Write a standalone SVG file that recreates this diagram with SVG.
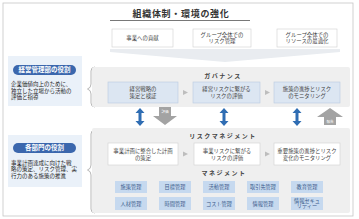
<svg xmlns="http://www.w3.org/2000/svg" width="359" height="219" viewBox="0 0 359 219">
<defs>
<style>
text{font-family:"Noto Sans CJK JP","Noto Sans",sans-serif;fill:#333}
.t{font-size:5.4px;text-anchor:middle;fill:#444}
.l{font-size:5.5px;fill:#222}
.h{font-size:6px;text-anchor:middle;letter-spacing:1.5px;font-weight:bold;fill:#444}
.pill{fill:#3b67ad}
.pt{font-size:6.5px;text-anchor:middle;fill:#fff;font-weight:bold}
.top{fill:#fff;stroke:#d0d0d0;stroke-width:0.6}
.gov{fill:#dce6f2;stroke:#b9c9df;stroke-width:0.6}
.rsk{fill:#fff;stroke:#d0d0d0;stroke-width:0.6}
.sm{fill:#c6d9ef}
.st{font-size:5.2px;text-anchor:middle;fill:#3a5a8a}
.tri{fill:#bdbdbd}
.ba{fill:#2f6db3}
.ga{fill:#a3a3a3}
.gt{font-size:3.6px;text-anchor:middle;fill:#fff}
.br{fill:none;stroke:#9a9a9a;stroke-width:0.7}
</style>
</defs>
<rect x="3" y="3" width="350" height="213" fill="#fff" stroke="#c6c6c6" stroke-width="0.8"/>
<g id="title">
<text x="181" y="17" style="font-size:9px;font-weight:bold;text-anchor:middle;letter-spacing:0.7px;fill:#333">組織体制・環境の強化</text>
<line x1="110" y1="20.5" x2="250" y2="20.5" stroke="#555" stroke-width="0.8"/>
</g>
<g id="top1"><rect class="top" x="112" y="29" width="61" height="18"/><text class="t" x="142.5" y="40">事業への貢献</text></g>
<g id="top2"><rect class="top" x="193" y="29" width="58" height="18"/><text class="t" x="222" y="36.5">グループ全体での</text><text class="t" x="222" y="43">リスク管理</text></g>
<g id="top3"><rect class="top" x="277" y="29" width="60" height="18"/><text class="t" x="307" y="36.5">グループ全体での</text><text class="t" x="307" y="43">リソースの最適化</text></g>
<polygon points="110,49 340,49 340,52 225,62 110,52" fill="#e9ecf0"/>

<g id="role1">
<rect x="8" y="56" width="74" height="50" fill="#eaf1f9"/>
<rect class="pill" x="13" y="65" width="63" height="10" rx="5"/>
<text class="pt" x="44.5" y="72.3">経営管理部の役割</text>
<text class="l" x="11" y="86">企業価値向上のために、</text>
<text class="l" x="11" y="92.5">独立した立場から活動の</text>
<text class="l" x="11" y="99">評価と指導</text>
</g>
<g id="role2">
<rect x="8" y="135" width="74" height="52" fill="#eaf1f9"/>
<rect class="pill" x="13" y="143" width="63" height="10" rx="5"/>
<text class="pt" x="44.5" y="150.3">各部門の役割</text>
<text class="l" x="11" y="164.5">事業計画達成に向けた戦</text>
<text class="l" x="11" y="171">略の策定、リスク管理、実</text>
<text class="l" x="11" y="177.5">行力のある施策の推進</text>
</g>
<path class="br" d="M95,67 Q91,67 91,71 L91,84 Q91,88 87.5,89 Q91,90 91,94 L91,103 Q91,107 95,107"/>
<path class="br" d="M95,130 Q91,130 91,134 L91,165 Q91,169 87.5,170 Q91,171 91,175 L91,209 Q91,213 95,213"/>

<g id="governance">
<rect x="92" y="67" width="258" height="40" rx="2" fill="#efefef"/>
<text class="h" x="223" y="78">ガバナンス</text>
</g>
<g id="g1"><rect class="gov" x="108" y="82" width="70" height="21"/><text class="t" x="143" y="91">経営戦略の</text><text class="t" x="143" y="98">策定と検証</text></g>
<g id="g2"><rect class="gov" x="193" y="82" width="67" height="21"/><text class="t" x="226.5" y="91">経営リスクに繋がる</text><text class="t" x="226.5" y="98">リスクの評価</text></g>
<g id="g3"><rect class="gov" x="274" y="82" width="66" height="21"/><text class="t" x="307" y="91">施策の進捗とリスク</text><text class="t" x="307" y="98">のモニタリング</text></g>

<g id="riskmgmt">
<rect x="92" y="128" width="258" height="85" rx="2" fill="#efefef"/>
<text class="h" x="223" y="138">リスクマネジメント</text>
<text class="h" x="224" y="175">マネジメント</text>
</g>
<g id="r1"><rect class="rsk" x="108" y="143" width="70" height="22"/><text class="t" x="143" y="152.5">事業計画に整合した計画</text><text class="t" x="143" y="159.5">の策定</text></g>
<g id="r2"><rect class="rsk" x="194" y="143" width="66" height="22"/><text class="t" x="227" y="152.5">事業リスクに繋がる</text><text class="t" x="227" y="159.5">リスクの評価</text></g>
<g id="r3"><rect class="rsk" x="274" y="143" width="66" height="22"/><text class="t" x="307" y="152.5">重要施策の進捗とリスク</text><text class="t" x="307" y="159.5">変化のモニタリング</text></g>

<g id="m1"><rect class="sm" x="115" y="181" width="32" height="12"/><text class="st" x="131" y="189">施策管理</text></g>
<g id="m2"><rect class="sm" x="159" y="181" width="32" height="12"/><text class="st" x="175" y="189">目標管理</text></g>
<g id="m3"><rect class="sm" x="203" y="181" width="32" height="12"/><text class="st" x="219" y="189">活動管理</text></g>
<g id="m4"><rect class="sm" x="247" y="181" width="32" height="12"/><text class="st" x="263" y="189">取引先管理</text></g>
<g id="m5"><rect class="sm" x="291" y="181" width="32" height="12"/><text class="st" x="307" y="189">教育管理</text></g>
<g id="m6"><rect class="sm" x="115" y="197" width="32" height="13"/><text class="st" x="131" y="205.5">人材管理</text></g>
<g id="m7"><rect class="sm" x="159" y="197" width="32" height="13"/><text class="st" x="175" y="205.5">時間管理</text></g>
<g id="m8"><rect class="sm" x="203" y="197" width="32" height="13"/><text class="st" x="219" y="205.5">コスト管理</text></g>
<g id="m9"><rect class="sm" x="247" y="197" width="32" height="13"/><text class="st" x="263" y="205.5">情報管理</text></g>
<g id="m10"><rect class="sm" x="291" y="197" width="32" height="13"/><text class="st" x="307" y="202.5">情報セキュ</text><text class="st" x="307" y="208">リティー</text></g>

<g id="connectors">
<polygon class="tri" points="183,90 188,92.5 183,95"/>
<polygon class="tri" points="265,90 270,92.5 265,95"/>
<polygon class="tri" points="183,151.5 188,154 183,156.5"/>
<polygon class="tri" points="265,151.5 270,154 265,156.5"/>
<path class="ba" d="M140,108 L144.5,113 L141.5,113 L141.5,121 L144.5,121 L140,126 L135.5,121 L138.5,121 L138.5,113 L135.5,113 Z"/>
<path class="ba" d="M224,108 L228.5,113 L225.5,113 L225.5,121 L228.5,121 L224,126 L219.5,121 L222.5,121 L222.5,113 L219.5,113 Z"/>
<path class="ba" d="M297,108 L301.5,113 L298.5,113 L298.5,121 L301.5,121 L297,126 L292.5,121 L295.5,121 L295.5,113 L292.5,113 Z"/>
<path class="ga" d="M159,107 L171,107 L171,116 L177,116 L165,125 L153,116 L159,116 Z"/>
<text class="gt" x="165" y="113">評価</text>
<path class="ga" d="M330,108 L343,117 L336,117 L336,125 L324,125 L324,117 L317,117 Z"/>
<text class="gt" x="330" y="122.5">報告</text>
</g>
</svg>
